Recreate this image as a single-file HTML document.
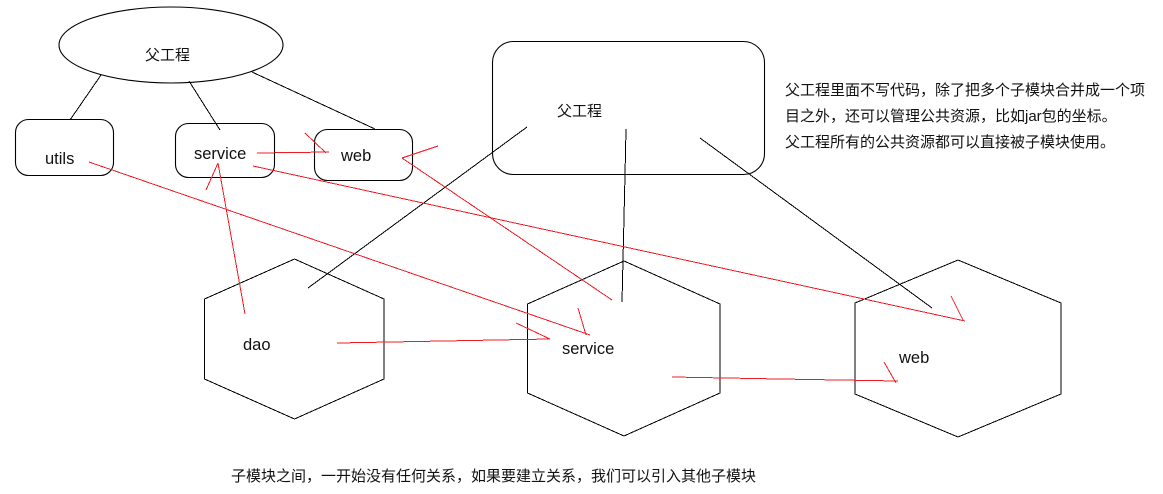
<!DOCTYPE html>
<html>
<head>
<meta charset="utf-8">
<style>
html,body{margin:0;padding:0;background:#fff;width:1163px;height:494px;overflow:hidden}
svg{display:block}
text{font-family:"Liberation Sans","Noto Sans CJK SC",sans-serif;font-size:15px;fill:#111}
text.l{font-size:16.500px}
.k{fill:none;stroke:#000;stroke-width:1;shape-rendering:crispEdges}
.e{fill:none;stroke:#000;stroke-width:1.1}
.r{fill:none;stroke:#ed1c24;stroke-width:1;shape-rendering:crispEdges}
</style>
</head>
<body>
<svg width="1163" height="494" viewBox="0 0 1163 494" xmlns="http://www.w3.org/2000/svg">
<rect width="1163" height="494" fill="#fff"/>
<!-- top-left tree -->
<ellipse class="e" cx="171" cy="45" rx="112" ry="38"/>
<rect class="e" x="15.5" y="119.5" width="98" height="56" rx="13"/>
<rect class="e" x="175.5" y="123.5" width="99" height="54" rx="13"/>
<rect class="e" x="314.5" y="129.5" width="98" height="51" rx="13"/>
<path class="k" d="M101 75L70 120M189 81L220 130M252 72L375 129"/>
<!-- parent box -->
<rect class="e" x="492.5" y="41.5" width="272" height="133" rx="21"/>
<path class="k" d="M527 127L308 288M626 129L625 175L622 302M700 138L932 308"/>
<!-- hexagons -->
<polygon class="k" points="294.5,259 384,299 384,379 294.5,419 204.500,379 204.500,299"/>
<polygon class="k" points="624,261 720,304 720,393 624,436 527.500,393 527.500,304"/>
<polygon class="k" points="958,260 1061,303 1061,394 958,437 855,394 855,303"/>
<!-- red connectors -->
<path class="r" d="M257 153L329 152M305 133L326 153"/>
<path class="r" d="M402 158L438 146M402 158L612 300"/>
<path class="r" d="M89 162L590 335M578 308L586 335"/>
<path class="r" d="M253 166L965 321M951 296L963 320"/>
<path class="r" d="M245 314L218 163M206 190L218 163"/>
<path class="r" d="M337 343L550 339M516 323L550 339"/>
<path class="r" d="M672 377L780 379L898 381M884 362L896 383"/>
<!-- labels -->
<text x="145" y="60">父工程</text>
<text class="l" x="45" y="164">utils</text>
<text class="l" x="194" y="159">service</text>
<text class="l" x="341" y="161">web</text>
<text x="557" y="116">父工程</text>
<text class="l" x="243" y="350">dao</text>
<text class="l" x="562" y="354">service</text>
<text class="l" x="899" y="363">web</text>
<text x="785" y="95">父工程里面不写代码，除了把多个子模块合并成一个项</text>
<text x="785" y="121">目之外，还可以管理公共资源，比如jar包的坐标。</text>
<text x="785" y="147">父工程所有的公共资源都可以直接被子模块使用。</text>
<text x="231" y="481">子模块之间，一开始没有任何关系，如果要建立关系，我们可以引入其他子模块</text>
</svg>
</body>
</html>
